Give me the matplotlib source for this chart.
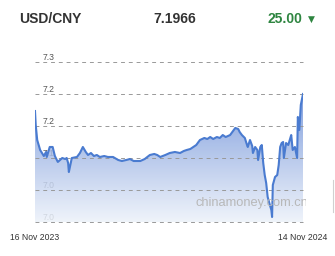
import numpy as np
import matplotlib
matplotlib.use("Agg")
import matplotlib.pyplot as plt
from matplotlib.colors import LinearSegmentedColormap
from matplotlib.patches import Rectangle

plt.rcParams['font.family'] = ['Liberation Sans', 'DejaVu Sans']

# ---------------- data ----------------
pair = "USD/CNY"
last_rate = "7.1966"
change = "25.00"
x_labels = ["16 Nov 2023", "14 Nov 2024"]
y_ticks = [7.00, 7.05, 7.10, 7.15, 7.20, 7.25]
y_tick_labels = ["7.0", "7.0", "7.1", "7.2", "7.2", "7.3"]

days = [0, 1, 3, 7, 12, 15, 16, 20, 24, 27, 31, 37, 41, 43, 45, 46, 48, 50, 57, 61,
        65, 69, 72, 76, 80, 84, 88, 94, 99, 106, 113, 118, 124, 129, 134, 143, 149,
        156, 162, 166, 170, 177, 183, 190, 197, 202, 206, 211, 215, 219, 224, 230,
        234, 238, 242, 247, 251, 255, 259, 265, 269, 272, 276, 278, 281, 285, 288,
        289, 292, 295, 296, 299, 302, 303, 306, 308, 310, 312, 314, 316, 319, 321,
        322, 323, 326, 329, 331, 333, 335, 337, 338, 341, 344, 346, 348, 350, 353,
        356, 357, 359, 361, 364]
rate = [7.1734, 7.1516, 7.1281, 7.1125, 7.1031, 7.1094, 7.1016, 7.1172, 7.1172, 7.1031,
        7.0938, 7.1000, 7.0984, 7.1000, 7.0922, 7.0781, 7.0891, 7.1000, 7.1016, 7.1078,
        7.1172, 7.1094, 7.1047, 7.1078, 7.1031, 7.1047, 7.1016, 7.1031, 7.1016, 7.1016,
        7.0969, 7.0953, 7.0969, 7.0984, 7.0953, 7.0953, 7.0984, 7.1047, 7.1063, 7.1047,
        7.1016, 7.1047, 7.1078, 7.1094, 7.1078, 7.1109, 7.1125, 7.1141, 7.1172, 7.1203,
        7.1281, 7.1313, 7.1297, 7.1328, 7.1297, 7.1328, 7.1313, 7.1359, 7.1328, 7.1359,
        7.1422, 7.1469, 7.1453, 7.1406, 7.1359, 7.1313, 7.1203, 7.1172, 7.1281, 7.1188,
        7.1078, 7.1172, 7.1125, 7.0969, 7.1172, 7.1203, 7.0922, 7.0734, 7.0609, 7.0391,
        7.0266, 7.0188, 7.0078, 7.0578, 7.0703, 7.0734, 7.0891, 7.1172, 7.1234, 7.1250,
        7.1000, 7.1234, 7.1203, 7.1281, 7.1359, 7.1125, 7.1172, 7.1000, 7.1641, 7.1438,
        7.1828, 7.2000]

# ---------------- figure ----------------
W, H = 335, 256
fig = plt.figure(figsize=(W / 100, H / 100), dpi=100)
fig.patch.set_facecolor("white")
ax = fig.add_axes([35 / W, 34 / H, 268 / W, 160 / H])
ax.set_xlim(days[0], days[-1])
ax.set_ylim(y_ticks[0], y_ticks[-1])
for s in ax.spines.values():
    s.set_visible(False)
ax.set_yticks([])
ax.set_xticks([days[0], days[-1]])
ax.set_xticklabels(x_labels, fontsize=6.2, color="#333333")
ax.tick_params(axis="x", length=0, pad=8)
ax.patch.set_alpha(0)

# grid lines (above fill) + labels (under fill)
for v, lab in zip(y_ticks, y_tick_labels):
    ax.axhline(v, color="#999999", lw=0.7, dashes=(4, 4), zorder=3, clip_on=False)
    ax.annotate(lab, xy=(0, v), xycoords=ax.get_yaxis_transform(),
                xytext=(8, 5), textcoords="offset pixels", fontsize=6.2,
                color="#555555", ha="left", va="center", zorder=1)

# gradient fill
poly = ax.fill_between(days, rate, y_ticks[0], facecolor="none", edgecolor="none")
cmap = LinearSegmentedColormap.from_list("g", [(108/255, 143/255, 216/255), (237/255, 242/255, 250/255)])
grad = np.linspace(0, 1, 256).reshape(-1, 1)
im = ax.imshow(grad, cmap=cmap, aspect="auto", alpha=0.85,
               extent=[days[0], days[-1], y_ticks[0], max(rate)], origin="upper", zorder=2)
im.set_clip_path(poly.get_paths()[0], transform=ax.transData)

# watermark
fig.text(195 / W, 1 - 203 / H, "chinamoney.com.cn", fontsize=9.3, color="#b8b8b8",
         ha="left", va="center", zorder=3)
fig.add_artist(plt.Line2D([333 / W, 333 / W], [1 - 180 / H, 1 - 212 / H], color="#d0d0d0", lw=0.8))

# line
ax.plot(days, rate, color="#4a7bd0", lw=1.5, zorder=4, solid_joinstyle="round")

# clip watermark like reference
fig.add_artist(Rectangle((306 / W, 1 - 212 / H), 20 / W, 18 / H, transform=fig.transFigure,
                         facecolor="white", edgecolor="none", zorder=5))

# header
fig.text(19 / W, 1 - 19 / H, pair, fontsize=10, fontweight="bold", color="#333333", va="center")
fig.text(153 / W, 1 - 19 / H, last_rate, fontsize=10, fontweight="bold", color="#333333", va="center")
fig.text(268 / W, 1 - 19 / H, change, fontsize=10, fontweight="bold", color="#2e8540", va="center")
fig.text(308 / W, 1 - 19 / H, "▼", fontsize=6.5, color="#2e8540", va="center",
         family=["DejaVu Sans"])

fig.savefig("out.png", dpi=100)
